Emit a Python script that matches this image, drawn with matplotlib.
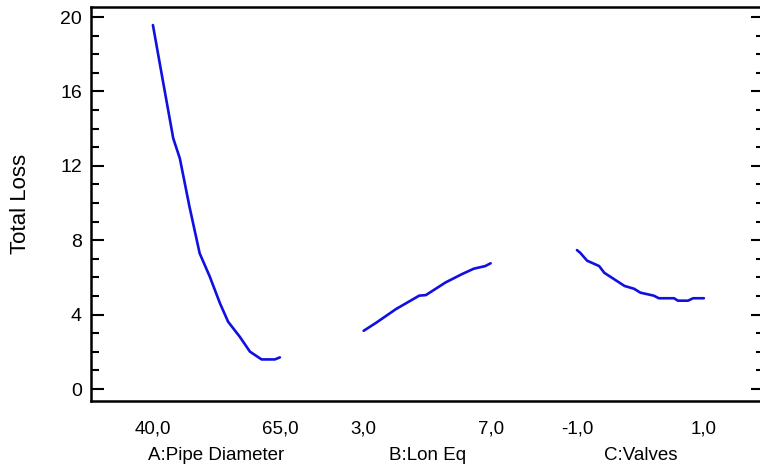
import numpy as np
import matplotlib.pyplot as plt
from matplotlib.ticker import MultipleLocator

# factor A: Pipe Diameter (40 .. 65)
pipe_d = [40.0, 41.7, 44.0, 45.3, 47.2, 49.2, 51.2, 53.2, 54.8, 57.1, 59.1, 61.4, 64.0, 65.0]
loss_a = [19.57, 16.97, 13.48, 12.40, 9.80, 7.30, 6.04, 4.61, 3.62, 2.81, 2.01, 1.59, 1.59, 1.70]

# factor B: Lon Eq (3 .. 7)
lon_eq = [3.0, 3.4, 4.02, 4.75, 4.96, 5.58, 6.1, 6.47, 6.83, 7.0]
loss_b = [3.13, 3.57, 4.30, 5.02, 5.05, 5.73, 6.18, 6.47, 6.61, 6.76]

# factor C: Valves (-1 .. 1)
valves = [-1.0, -0.95, -0.84, -0.65, -0.57, -0.25, -0.10, 0.0, 0.21, 0.29, 0.53, 0.59, 0.75, 0.83, 1.0]
loss_c = [7.47, 7.33, 6.90, 6.61, 6.25, 5.54, 5.39, 5.18, 5.02, 4.88, 4.88, 4.75, 4.75, 4.88, 4.88]

factor_names = ['A:Pipe Diameter', 'B:Lon Eq', 'C:Valves']
tick_labels = ['40,0', '65,0', '3,0', '7,0', '-1,0', '1,0']
ranges = [(40.0, 65.0), (3.0, 7.0), (-1.0, 1.0)]
offsets = [0.0, 1.66, 3.34]   # where each factor panel starts on the shared axis

fnt = ['Liberation Sans', 'DejaVu Sans']

fig = plt.figure(figsize=(7.6, 4.69), dpi=100)
ax = fig.add_axes([0.1197, 0.145, 0.885, 0.840])

blue = '#1010e0'
series = [(pipe_d, loss_a), (lon_eq, loss_b), (valves, loss_c)]
for (xs, ys), (lo, hi), off in zip(series, ranges, offsets):
    pos = off + (np.array(xs) - lo) / (hi - lo)
    ax.plot(pos, ys, color=blue, lw=1.9, solid_capstyle='round', solid_joinstyle='round')

ax.set_xlim(-0.488, 4.81)
ax.set_ylim(-0.645, 20.54)

# x ticks: ends of each factor range
xt = []
for off in offsets:
    xt += [off, off + 1.0]
ax.set_xticks(xt)
ax.set_xticklabels(tick_labels, family=fnt, fontsize=13.5)
ax.tick_params(axis='x', length=0, pad=14)

for name, off in zip(factor_names, offsets):
    ax.annotate(name, xy=(off + 0.5, 0), xycoords=('data', 'axes fraction'),
                xytext=(0, -39), textcoords='offset points',
                ha='center', va='center', family=fnt, fontsize=13.5)

ax.yaxis.set_major_locator(MultipleLocator(4))
ax.yaxis.set_minor_locator(MultipleLocator(1))
ax.tick_params(axis='y', which='both', direction='in', left=True, right=True,
               width=1.5, colors='black')
ax.tick_params(axis='y', which='major', length=9.4, pad=6.5)
ax.tick_params(axis='y', which='minor', length=5.5)
for lab in ax.get_yticklabels():
    lab.set_family(fnt)
    lab.set_fontsize(14)

ax.set_ylabel('Total Loss', family=fnt, fontsize=16)
ax.yaxis.set_label_coords(-0.089, 0.5)

for sp in ax.spines.values():
    sp.set_linewidth(1.8)

fig.savefig('out.png', dpi=100)
